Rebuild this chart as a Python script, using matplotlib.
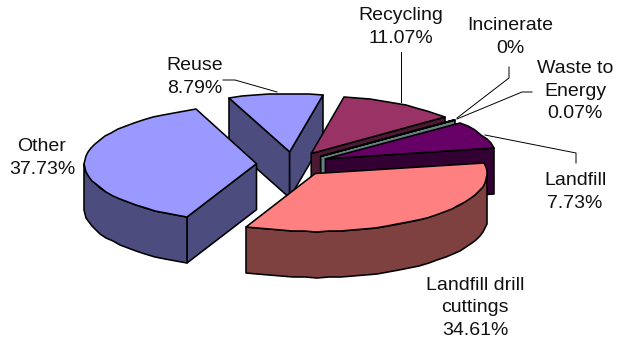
import numpy as np
import matplotlib
matplotlib.use('Agg')
import matplotlib.pyplot as plt
from matplotlib.patches import Polygon

plt.rcParams['font.family'] = ['Liberation Sans', 'DejaVu Sans']

# waste disposal shares, clockwise from the top left
names = ['Reuse', 'Recycling', 'Incinerate', 'Waste to\nEnergy', 'Landfill',
         'Landfill drill\ncuttings', 'Other']
shares = [8.79, 11.07, 0, 0.07, 7.73, 34.61, 37.73]
top_colors = ['#9999FF', '#993366', '#FFFFCC', '#CCFFFF', '#660066', '#FF8080', '#9999FF']
side_colors = ['#4C4C7F', '#4C1933', '#7F7F66', '#667F7F', '#330033', '#7F4040', '#4C4C7F']

# pie geometry in pixels
cx, cy = 292.6, 164
rx, ry = 172, 58
depth = 46
explode = 0.21
start_angle = 110.5

label_pos = [(195, 77), (401, 27), (510, 37), (575, 91), (575, 192), (475, 308), (42, 158)]
leaders = [
    [(223, 80), (235, 80), (277, 92)],
    [(401, 52), (401, 102)],
    [(509, 67), (509, 78), (457, 118)],
    [(532, 92), (522, 92), (457, 119)],
    [(576, 163), (576, 153), (485, 135)],
]

fig = plt.figure(figsize=(6.27, 3.44), dpi=100)
ax = fig.add_axes([0, 0, 1, 1])
ax.set_xlim(0, 627)
ax.set_ylim(344, 0)
ax.axis('off')


def rim(x0, y0, a, b, step=4):
    n = max(int(abs(a - b) / step), 1) + 1
    t = np.radians(np.linspace(a, b, n))
    # whole pixels give the rim its slightly stepped look
    return np.round(np.column_stack([x0 + rx * np.cos(t), y0 - ry * np.sin(t)]))


def draw(pts, color):
    ax.add_patch(Polygon(pts, closed=True, facecolor=color, edgecolor='black',
                         linewidth=1.15, joinstyle='round'))


# slices go back to front, so the nearer ones cover the farther ones
order = [0, 6, 1, 2, 3, 4, 5]
starts = start_angle - np.concatenate([[0], np.cumsum(shares)[:-1]]) * 3.6

for i in order:
    a1 = starts[i]
    a2 = a1 - shares[i] * 3.6
    mid = np.radians((a1 + a2) / 2)
    x0 = cx + explode * rx * np.cos(mid)
    y0 = cy - explode * ry * np.sin(mid)
    down = np.array([0, depth])
    apex = np.array([x0, y0])

    # cut faces that turn toward the viewer
    if np.sin(np.radians(a1 + 90)) < 0:
        p = rim(x0, y0, a1, a1)[0]
        draw([apex, p, p + down, apex + down], side_colors[i])
    if np.sin(np.radians(a2 - 90)) < 0:
        p = rim(x0, y0, a2, a2)[0]
        draw([apex, p, p + down, apex + down], side_colors[i])

    # outer wall, lower half of the ellipse only
    lo = max(a2, -180)
    hi = min(a1, 0)
    if hi > lo:
        edge = rim(x0, y0, hi, lo)
        draw(np.vstack([edge, (edge + down)[::-1]]), side_colors[i])

    draw(np.vstack([apex, rim(x0, y0, a1, a2)]), top_colors[i])

for line in leaders:
    xs, ys = zip(*line)
    ax.plot(xs, ys, color='black', linewidth=0.7)

for name, share, pos in zip(names, shares, label_pos):
    ax.text(pos[0], pos[1], f'{name}\n{share:g}%', ha='center', va='center',
            fontsize=14, color='#111111', linespacing=1.42)

fig.savefig('out.png', dpi=100)
